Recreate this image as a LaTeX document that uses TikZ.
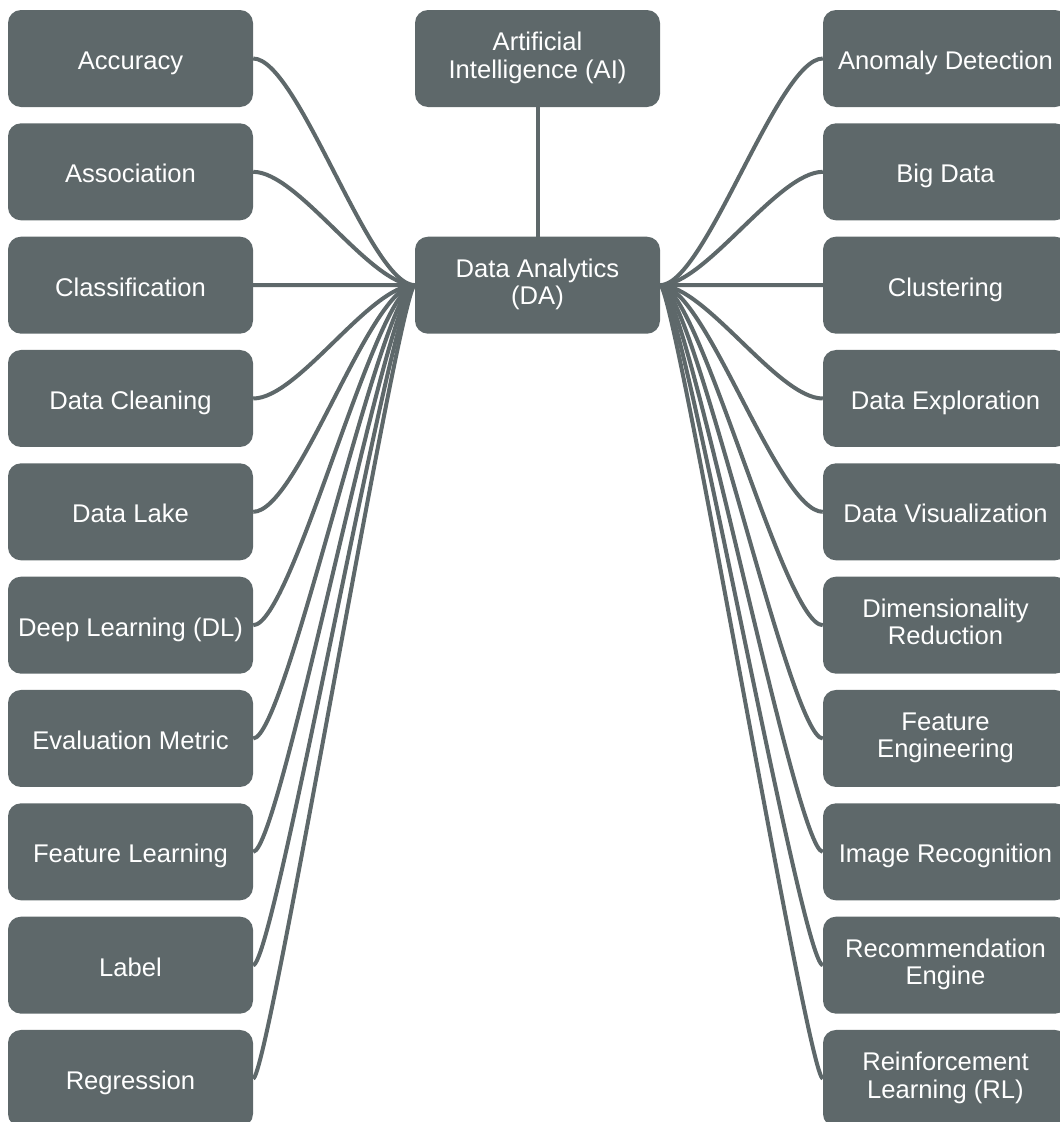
\documentclass[tikz,border=0pt]{standalone}
\usepackage{fontspec}
\setmainfont{Liberation Sans}
\definecolor{slate}{HTML}{5E686A}
% box text: fixed line pitch, and struts giving the first line a fixed
% height and the last a fixed depth, so the capitals sit mid-box
\newcommand\boxfont{\fontsize{25.6}{27.5}\selectfont\lineskiplimit-50pt\relax}
\newcommand\topstrut{\rule{0pt}{29pt}}
\newcommand\botstrut{\rule[-6.7pt]{0pt}{6.7pt}}
\tikzset{
  term/.style={fill=slate, rounded corners=13pt, minimum width=245pt,
    minimum height=97pt, inner sep=0pt, text=white, align=center,
    font=\boxfont,
    execute at begin node=\topstrut, execute at end node=\botstrut},
  link/.style={draw=slate, line width=4pt},
}
\begin{document}
\begin{tikzpicture}[x=1pt,y=-1pt]
\useasboundingbox (0,0) rectangle (1060,1122);
\clip (0,0) rectangle (1060,1122);

% central concepts
\node[term] (ai) at (537.5,58.5) {Artificial\\Intelligence (AI)};
\node[term] (da) at (537.5,285.2) {Data Analytics\\(DA)};
\draw[link] (ai.south) -- (da.north);

% left column: name / control-point offset / label
\foreach \name/\ctl/\txt [count=\i from 0] in {
    acc/45/{Accuracy}, asso/45/{Association}, cls/45/{Classification},
    clean/45/{Data Cleaning}, lake/45/{Data Lake}, dl/39/{Deep Learning (DL)},
    eval/33/{Evaluation Metric}, featl/27/{Feature Learning}, lab/21/{Label},
    reg/15/{Regression}} {
  \node[term] (\name) at (130.5,58.5+113.33*\i) {\txt};
  \draw[link] (da.west) .. controls +(-\ctl,0) and +(\ctl,0) .. (\name.east);
}

% right column
\foreach \name/\ctl/\txt [count=\i from 0] in {
    anom/45/{Anomaly Detection}, big/45/{Big Data}, clu/45/{Clustering},
    expl/45/{Data Exploration}, vis/45/{Data Visualization},
    dim/39/{Dimensionality\\Reduction}, fenge/33/{Feature\\Engineering},
    img/27/{Image Recognition}, rec/21/{Recommendation\\Engine},
    rl/15/{Reinforcement\\Learning (RL)}} {
  \node[term] (\name) at (945.5,58.5+113.33*\i) {\txt};
  \draw[link] (da.east) .. controls +(\ctl,0) and +(-\ctl,0) .. (\name.west);
}
\end{tikzpicture}
\end{document}
